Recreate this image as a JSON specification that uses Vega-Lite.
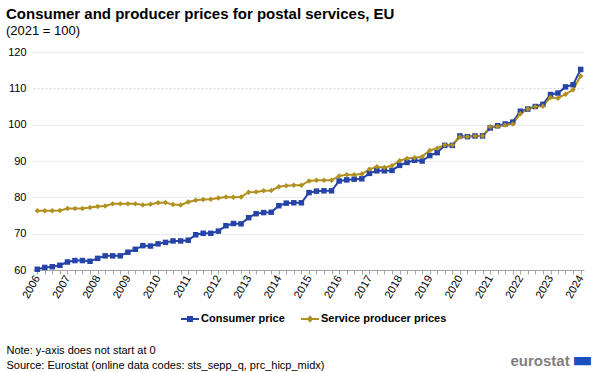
{
  "$schema": "https://vega.github.io/schema/vega-lite/v6.json",
  "width": 551,
  "height": 218,
  "autosize": {"type": "none"},
  "padding": {"left": 33, "top": 52, "right": 16, "bottom": 102},
  "background": "white",
  "title": {
    "text": "Consumer and producer prices for postal services, EU",
    "subtitle": "(2021 = 100)",
    "anchor": "start",
    "frame": "group",
    "dx": -27,
    "offset": 8,
    "font": "Liberation Sans, Arial",
    "fontSize": 15,
    "fontWeight": "bold",
    "color": "#000000",
    "subtitleFont": "Liberation Sans, Arial",
    "subtitleFontSize": 13,
    "subtitleColor": "#000000",
    "subtitlePadding": 3
  },
  "config": {
    "view": {"stroke": null},
    "font": "Liberation Sans, Arial",
    "axis": {"labelFont": "Liberation Sans, Arial", "titleFont": "Liberation Sans, Arial"},
    "legend": {"labelFont": "Liberation Sans, Arial"}
  },
  "data": {
    "values": [
      {"date": "2006-01-01", "series": "Consumer price", "value": 60.2},
      {"date": "2006-04-01", "series": "Consumer price", "value": 60.7},
      {"date": "2006-07-01", "series": "Consumer price", "value": 60.9},
      {"date": "2006-10-01", "series": "Consumer price", "value": 61.3},
      {"date": "2007-01-01", "series": "Consumer price", "value": 62.2},
      {"date": "2007-04-01", "series": "Consumer price", "value": 62.6},
      {"date": "2007-07-01", "series": "Consumer price", "value": 62.6},
      {"date": "2007-10-01", "series": "Consumer price", "value": 62.4},
      {"date": "2008-01-01", "series": "Consumer price", "value": 63.2},
      {"date": "2008-04-01", "series": "Consumer price", "value": 63.9},
      {"date": "2008-07-01", "series": "Consumer price", "value": 63.9},
      {"date": "2008-10-01", "series": "Consumer price", "value": 63.9},
      {"date": "2009-01-01", "series": "Consumer price", "value": 64.9},
      {"date": "2009-04-01", "series": "Consumer price", "value": 65.7},
      {"date": "2009-07-01", "series": "Consumer price", "value": 66.7},
      {"date": "2009-10-01", "series": "Consumer price", "value": 66.6},
      {"date": "2010-01-01", "series": "Consumer price", "value": 67.2},
      {"date": "2010-04-01", "series": "Consumer price", "value": 67.6},
      {"date": "2010-07-01", "series": "Consumer price", "value": 68.0},
      {"date": "2010-10-01", "series": "Consumer price", "value": 68.0},
      {"date": "2011-01-01", "series": "Consumer price", "value": 68.2},
      {"date": "2011-04-01", "series": "Consumer price", "value": 69.7},
      {"date": "2011-07-01", "series": "Consumer price", "value": 70.1},
      {"date": "2011-10-01", "series": "Consumer price", "value": 70.1},
      {"date": "2012-01-01", "series": "Consumer price", "value": 70.7},
      {"date": "2012-04-01", "series": "Consumer price", "value": 72.2},
      {"date": "2012-07-01", "series": "Consumer price", "value": 72.8},
      {"date": "2012-10-01", "series": "Consumer price", "value": 72.7},
      {"date": "2013-01-01", "series": "Consumer price", "value": 74.4},
      {"date": "2013-04-01", "series": "Consumer price", "value": 75.5},
      {"date": "2013-07-01", "series": "Consumer price", "value": 75.8},
      {"date": "2013-10-01", "series": "Consumer price", "value": 75.9},
      {"date": "2014-01-01", "series": "Consumer price", "value": 77.7},
      {"date": "2014-04-01", "series": "Consumer price", "value": 78.4},
      {"date": "2014-07-01", "series": "Consumer price", "value": 78.5},
      {"date": "2014-10-01", "series": "Consumer price", "value": 78.5},
      {"date": "2015-01-01", "series": "Consumer price", "value": 81.3},
      {"date": "2015-04-01", "series": "Consumer price", "value": 81.7},
      {"date": "2015-07-01", "series": "Consumer price", "value": 81.8},
      {"date": "2015-10-01", "series": "Consumer price", "value": 81.8},
      {"date": "2016-01-01", "series": "Consumer price", "value": 84.5},
      {"date": "2016-04-01", "series": "Consumer price", "value": 84.8},
      {"date": "2016-07-01", "series": "Consumer price", "value": 85.0},
      {"date": "2016-10-01", "series": "Consumer price", "value": 85.1},
      {"date": "2017-01-01", "series": "Consumer price", "value": 86.6},
      {"date": "2017-04-01", "series": "Consumer price", "value": 87.3},
      {"date": "2017-07-01", "series": "Consumer price", "value": 87.3},
      {"date": "2017-10-01", "series": "Consumer price", "value": 87.4},
      {"date": "2018-01-01", "series": "Consumer price", "value": 88.8},
      {"date": "2018-04-01", "series": "Consumer price", "value": 89.6},
      {"date": "2018-07-01", "series": "Consumer price", "value": 90.2},
      {"date": "2018-10-01", "series": "Consumer price", "value": 90.0},
      {"date": "2019-01-01", "series": "Consumer price", "value": 91.5},
      {"date": "2019-04-01", "series": "Consumer price", "value": 92.3},
      {"date": "2019-07-01", "series": "Consumer price", "value": 94.3},
      {"date": "2019-10-01", "series": "Consumer price", "value": 94.3},
      {"date": "2020-01-01", "series": "Consumer price", "value": 96.9},
      {"date": "2020-04-01", "series": "Consumer price", "value": 96.7},
      {"date": "2020-07-01", "series": "Consumer price", "value": 96.9},
      {"date": "2020-10-01", "series": "Consumer price", "value": 96.9},
      {"date": "2021-01-01", "series": "Consumer price", "value": 99.1},
      {"date": "2021-04-01", "series": "Consumer price", "value": 99.7},
      {"date": "2021-07-01", "series": "Consumer price", "value": 100.2},
      {"date": "2021-10-01", "series": "Consumer price", "value": 100.7},
      {"date": "2022-01-01", "series": "Consumer price", "value": 103.7},
      {"date": "2022-04-01", "series": "Consumer price", "value": 104.3},
      {"date": "2022-07-01", "series": "Consumer price", "value": 105.0},
      {"date": "2022-10-01", "series": "Consumer price", "value": 105.6},
      {"date": "2023-01-01", "series": "Consumer price", "value": 108.3},
      {"date": "2023-04-01", "series": "Consumer price", "value": 108.7},
      {"date": "2023-07-01", "series": "Consumer price", "value": 110.4},
      {"date": "2023-10-01", "series": "Consumer price", "value": 111.0},
      {"date": "2024-01-01", "series": "Consumer price", "value": 115.2},
      {"date": "2006-01-01", "series": "Service producer prices", "value": 76.3},
      {"date": "2006-04-01", "series": "Service producer prices", "value": 76.3},
      {"date": "2006-07-01", "series": "Service producer prices", "value": 76.3},
      {"date": "2006-10-01", "series": "Service producer prices", "value": 76.4},
      {"date": "2007-01-01", "series": "Service producer prices", "value": 76.9},
      {"date": "2007-04-01", "series": "Service producer prices", "value": 76.9},
      {"date": "2007-07-01", "series": "Service producer prices", "value": 76.9},
      {"date": "2007-10-01", "series": "Service producer prices", "value": 77.2},
      {"date": "2008-01-01", "series": "Service producer prices", "value": 77.5},
      {"date": "2008-04-01", "series": "Service producer prices", "value": 77.6},
      {"date": "2008-07-01", "series": "Service producer prices", "value": 78.2},
      {"date": "2008-10-01", "series": "Service producer prices", "value": 78.2},
      {"date": "2009-01-01", "series": "Service producer prices", "value": 78.2},
      {"date": "2009-04-01", "series": "Service producer prices", "value": 78.2},
      {"date": "2009-07-01", "series": "Service producer prices", "value": 77.9},
      {"date": "2009-10-01", "series": "Service producer prices", "value": 78.1},
      {"date": "2010-01-01", "series": "Service producer prices", "value": 78.5},
      {"date": "2010-04-01", "series": "Service producer prices", "value": 78.6},
      {"date": "2010-07-01", "series": "Service producer prices", "value": 78.0},
      {"date": "2010-10-01", "series": "Service producer prices", "value": 77.9},
      {"date": "2011-01-01", "series": "Service producer prices", "value": 78.7},
      {"date": "2011-04-01", "series": "Service producer prices", "value": 79.2},
      {"date": "2011-07-01", "series": "Service producer prices", "value": 79.4},
      {"date": "2011-10-01", "series": "Service producer prices", "value": 79.5},
      {"date": "2012-01-01", "series": "Service producer prices", "value": 79.8},
      {"date": "2012-04-01", "series": "Service producer prices", "value": 80.1},
      {"date": "2012-07-01", "series": "Service producer prices", "value": 80.0},
      {"date": "2012-10-01", "series": "Service producer prices", "value": 80.1},
      {"date": "2013-01-01", "series": "Service producer prices", "value": 81.4},
      {"date": "2013-04-01", "series": "Service producer prices", "value": 81.5},
      {"date": "2013-07-01", "series": "Service producer prices", "value": 81.8},
      {"date": "2013-10-01", "series": "Service producer prices", "value": 81.9},
      {"date": "2014-01-01", "series": "Service producer prices", "value": 82.9},
      {"date": "2014-04-01", "series": "Service producer prices", "value": 83.2},
      {"date": "2014-07-01", "series": "Service producer prices", "value": 83.3},
      {"date": "2014-10-01", "series": "Service producer prices", "value": 83.3},
      {"date": "2015-01-01", "series": "Service producer prices", "value": 84.5},
      {"date": "2015-04-01", "series": "Service producer prices", "value": 84.7},
      {"date": "2015-07-01", "series": "Service producer prices", "value": 84.7},
      {"date": "2015-10-01", "series": "Service producer prices", "value": 84.7},
      {"date": "2016-01-01", "series": "Service producer prices", "value": 85.9},
      {"date": "2016-04-01", "series": "Service producer prices", "value": 86.2},
      {"date": "2016-07-01", "series": "Service producer prices", "value": 86.2},
      {"date": "2016-10-01", "series": "Service producer prices", "value": 86.4},
      {"date": "2017-01-01", "series": "Service producer prices", "value": 87.7},
      {"date": "2017-04-01", "series": "Service producer prices", "value": 88.4},
      {"date": "2017-07-01", "series": "Service producer prices", "value": 88.2},
      {"date": "2017-10-01", "series": "Service producer prices", "value": 88.7},
      {"date": "2018-01-01", "series": "Service producer prices", "value": 90.1},
      {"date": "2018-04-01", "series": "Service producer prices", "value": 90.7},
      {"date": "2018-07-01", "series": "Service producer prices", "value": 90.9},
      {"date": "2018-10-01", "series": "Service producer prices", "value": 91.2},
      {"date": "2019-01-01", "series": "Service producer prices", "value": 92.9},
      {"date": "2019-04-01", "series": "Service producer prices", "value": 93.5},
      {"date": "2019-07-01", "series": "Service producer prices", "value": 94.4},
      {"date": "2019-10-01", "series": "Service producer prices", "value": 94.4},
      {"date": "2020-01-01", "series": "Service producer prices", "value": 96.6},
      {"date": "2020-04-01", "series": "Service producer prices", "value": 96.7},
      {"date": "2020-07-01", "series": "Service producer prices", "value": 96.9},
      {"date": "2020-10-01", "series": "Service producer prices", "value": 96.9},
      {"date": "2021-01-01", "series": "Service producer prices", "value": 99.4},
      {"date": "2021-04-01", "series": "Service producer prices", "value": 99.5},
      {"date": "2021-07-01", "series": "Service producer prices", "value": 99.9},
      {"date": "2021-10-01", "series": "Service producer prices", "value": 100.2},
      {"date": "2022-01-01", "series": "Service producer prices", "value": 103.0},
      {"date": "2022-04-01", "series": "Service producer prices", "value": 104.3},
      {"date": "2022-07-01", "series": "Service producer prices", "value": 104.9},
      {"date": "2022-10-01", "series": "Service producer prices", "value": 105.1},
      {"date": "2023-01-01", "series": "Service producer prices", "value": 107.5},
      {"date": "2023-04-01", "series": "Service producer prices", "value": 107.3},
      {"date": "2023-07-01", "series": "Service producer prices", "value": 108.4},
      {"date": "2023-10-01", "series": "Service producer prices", "value": 109.6},
      {"date": "2024-01-01", "series": "Service producer prices", "value": 113.4}
    ]
  },
  "encoding": {
    "x": {
      "field": "date",
      "type": "temporal",
      "scale": {
        "type": "utc",
        "domain": [
          {"year": 2005, "month": 11, "date": 10, "utc": true},
          {"year": 2024, "month": 2, "date": 10, "utc": true}
        ]
      },
      "axis": {
        "tickCount": {"interval": "month", "step": 3},
        "labelExpr": "utcmonth(datum.value) === 0 ? utcFormat(datum.value, '%Y') : ''",
        "labelAngle": -60,
        "labelAlign": "right",
        "labelBaseline": "middle",
        "labelFontSize": 11,
        "labelColor": "#000000",
        "labelPadding": 2,
        "labelOverlap": false,
        "labelFlush": false,
        "labelBound": false,
        "grid": false,
        "domainColor": "#a6a6a6",
        "tickColor": "#a6a6a6",
        "tickSize": 4,
        "title": ["Note: y-axis does not start at 0", "Source: Eurostat (online data codes: sts_sepp_q, prc_hicp_midx)"],
        "titleFontSize": 11,
        "titleFontWeight": "normal",
        "titleColor": "#000000",
        "titleAnchor": "start",
        "titleAlign": "left",
        "titleBaseline": "alphabetic",
        "titleX": -27,
        "titleY": 83,
        "titleLineHeight": 15
      }
    },
    "color": {
      "field": "series",
      "type": "nominal",
      "scale": {"domain": ["Consumer price", "Service producer prices"], "range": ["#2644A7", "#B09120"]},
      "legend": {
        "orient": "none",
        "legendX": 148,
        "legendY": 258,
        "direction": "horizontal",
        "title": null,
        "labelFontSize": 11,
        "labelFontWeight": "bold",
        "labelColor": "#000000",
        "labelOffset": 2,
        "columnPadding": 16,
        "symbolSize": 324,
        "symbolStrokeWidth": 0,
        "encode": {
          "symbols": {
            "update": {
              "shape": {"signal": "datum.value === 'Consumer price' ? 'M-1,-0.1H1V0.1H-1Z M-0.34,-0.34H0.34V0.34H-0.34Z' : 'M-1,-0.1H1V0.1H-1Z M0,-0.42L0.36,0L0,0.42L-0.36,0Z'"}
            }
          }
        }
      }
    }
  },
  "resolve": {"axis": {"y": "independent"}},
  "layer": [
    {
      "mark": {"type": "line", "strokeWidth": 2},
      "encoding": {
        "y": {
          "field": "value",
          "type": "quantitative",
          "scale": {"domain": [60, 120], "zero": false, "nice": false},
          "axis": {
            "values": [60, 70, 80, 90, 100, 110, 120],
            "domain": false,
            "ticks": false,
            "labelFontSize": 11,
            "labelColor": "#000000",
            "labelPadding": 7,
            "gridColor": "#d9d9d9",
            "gridDash": [2, 2],
            "title": "eurostat",
            "titleAngle": 0,
            "titleAlign": "left",
            "titleBaseline": "alphabetic",
            "titleX": 477,
            "titleY": 313,
            "titleFontSize": 15,
            "titleFontWeight": "bold",
            "titleColor": "#808080"
          }
        }
      }
    },
    {
      "transform": [{"filter": "datum.series === 'Consumer price'"}],
      "mark": {"type": "point", "filled": true, "opacity": 1, "size": 30, "shape": "square"},
      "encoding": {
        "y": {
          "field": "value",
          "type": "quantitative",
          "scale": {"domain": [60, 120], "zero": false, "nice": false},
          "axis": {
            "orient": "right",
            "domain": false,
            "ticks": false,
            "labels": false,
            "grid": false,
            "title": "▬",
            "titleFont": "DejaVu Sans",
            "titleAngle": 0,
            "titleAlign": "center",
            "titleBaseline": "alphabetic",
            "titleX": -2,
            "titleY": 314,
            "titleFontSize": 22,
            "titleFontWeight": "normal",
            "titleColor": "#1A4FBF"
          }
        }
      }
    },
    {
      "transform": [{"filter": "datum.series === 'Service producer prices'"}],
      "mark": {"type": "point", "filled": true, "opacity": 1, "size": 30, "shape": "diamond"},
      "encoding": {
        "y": {
          "field": "value",
          "type": "quantitative",
          "scale": {"domain": [60, 120], "zero": false, "nice": false},
          "axis": null
        }
      }
    }
  ]
}
